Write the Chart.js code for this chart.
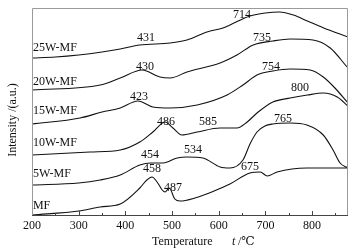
<!DOCTYPE html>
<html>
<head>
<meta charset="utf-8">
<script src="https://cdn.jsdelivr.net/npm/chart.js@4"></script>
<style>
  html, body { margin: 0; padding: 0; background: #fff; }
  #wrap { width: 361px; height: 252px; }
</style>
</head>
<body>
<div id="wrap"><canvas id="tprChart" width="361" height="252"></canvas></div>
<script>
// TPR curves, temperature (°C) vs intensity (a.u., arbitrary offset)
var mfT = [200, 300, 346, 389, 431, 446, 457, 468, 479, 485, 494, 506, 517, 549, 590, 624, 667, 689, 704, 725, 789, 877];
var mfY = [1, 5, 9, 12, 28, 36, 39, 34, 26, 24, 28, 17, 15, 18, 25, 32, 43, 44, 40, 44, 48, 48];

var w5T = [200, 300, 346, 389, 431, 454, 481, 511, 532, 566, 603, 624, 652, 667, 682, 699, 716, 753, 789, 824, 845, 860, 877];
var w5Y = [31, 33, 36, 41, 51, 53, 53, 58, 59, 58, 49, 48, 56, 72, 84, 90, 92, 93, 91, 81, 66, 53, 48];

var w10T = [200, 324, 389, 431, 459, 485, 502, 521, 554, 603, 639, 661, 682, 716, 753, 790, 824, 854, 877];
var w10Y = [61, 64, 66, 74, 84, 94, 88, 81, 84, 88, 88, 94, 103, 114, 118, 121, 123, 119, 110];

var w15T = [200, 303, 350, 389, 427, 459, 496, 554, 618, 652, 682, 716, 753, 796, 824, 849, 877];
var w15Y = [92, 98, 104, 108, 115, 109, 108, 111, 121, 131, 141, 145, 147, 146, 139, 128, 113];

var w20T = [200, 346, 389, 436, 474, 496, 532, 603, 639, 674, 716, 753, 802, 839, 875];
var w20Y = [126, 131, 138, 146, 139, 138, 144, 153, 161, 171, 175, 177, 176, 168, 149];

var w25T = [200, 250, 300, 350, 389, 431, 496, 532, 575, 609, 624, 667, 700, 730, 760, 790, 825, 877];
var w25Y = [158, 159, 161, 164, 167, 171, 173, 176, 184, 188, 191, 200, 203, 204, 201, 195, 188, 179];

var seriesNames = ['MF', '5W-MF', '10W-MF', '15W-MF', '20W-MF', '25W-MF'];
var nameY = [10, 42, 73, 105, 134, 168];

var peakText = ['458', '487', '675', '454', '534', '765', '486', '585', '800', '423', '754', '430', '735', '431', '714'];
var peakX = [457, 502, 667, 453, 545, 738, 487, 577, 774, 429, 712, 442, 693, 444, 650];
var peakY = [47, 28, 49, 61, 66, 97, 94, 94, 128, 119, 149, 149, 178, 178, 201];

var xTicks = [200, 300, 400, 500, 600, 700, 800];

function pts(xs, ys) {
  return xs.map(function (x, i) { return { x: x, y: ys[i] }; });
}

var serif = '"Liberation Serif", "DejaVu Serif", serif';

var curveData = [pts(mfT, mfY), pts(w5T, w5Y), pts(w10T, w10Y), pts(w15T, w15Y), pts(w20T, w20Y), pts(w25T, w25Y)];

var datasets = curveData.map(function (d, i) {
  return {
    label: seriesNames[i],
    data: d,
    borderColor: '#111',
    borderWidth: 1.1,
    pointRadius: 0,
    fill: false,
    cubicInterpolationMode: 'monotone'
  };
});

var textPlugin = {
  id: 'tprText',
  afterDatasetsDraw: function (chart) {
    var c = chart.ctx, a = chart.chartArea;
    var xs = chart.scales.x, ys = chart.scales.y;
    c.save();
    // frame
    c.strokeStyle = '#9a9a9a';
    c.lineWidth = 1;
    c.beginPath();
    c.moveTo(a.left + 0.5, a.bottom);
    c.lineTo(a.left + 0.5, a.top + 0.5);
    c.lineTo(a.right - 0.5, a.top + 0.5);
    c.lineTo(a.right - 0.5, a.bottom);
    c.stroke();
    c.strokeStyle = '#444';
    c.beginPath();
    c.moveTo(a.left, a.bottom - 0.5);
    c.lineTo(a.right, a.bottom - 0.5);
    c.stroke();
    // inward ticks
    for (var t = 250; t <= 850; t += 50) {
      var px = Math.round(xs.getPixelForValue(t)) + 0.5;
      var len = (t % 100 === 0) ? 5 : 3;
      c.beginPath();
      c.moveTo(px, a.bottom);
      c.lineTo(px, a.bottom - len);
      c.stroke();
    }
    c.fillStyle = '#111';
    c.font = '12px ' + serif;
    c.textBaseline = 'middle';
    c.textAlign = 'left';
    seriesNames.forEach(function (n, i) {
      c.fillText(n, xs.getPixelForValue(202), ys.getPixelForValue(nameY[i]));
    });
    c.textAlign = 'center';
    peakText.forEach(function (s, i) {
      c.fillText(s, xs.getPixelForValue(peakX[i]), ys.getPixelForValue(peakY[i]));
    });
    // axis titles
    c.textAlign = 'left';
    c.fillText('Temperature', 152, 242);
    c.font = 'italic 12px ' + serif;
    c.fillText('t', 232, 242);
    c.font = '12px ' + serif;
    c.fillText('/\u2103', 238, 242);
    c.translate(13, 120);
    c.rotate(-Math.PI / 2);
    c.textAlign = 'center';
    c.fillText('Intensity /(a.u.)', 0, 0);
    c.restore();
  }
};

var ctx = document.getElementById('tprChart').getContext('2d');
var tprChart = new Chart(ctx, {
  type: 'line',
  data: { datasets: datasets },
  options: {
    responsive: false,
    animation: false,
    layout: { padding: { left: 32, right: 13, top: 8, bottom: 0 } },
    plugins: { legend: { display: false }, tooltip: { enabled: false } },
    scales: {
      x: {
        type: 'linear',
        min: 200,
        max: 877,
        afterBuildTicks: function (s) { s.ticks = xTicks.map(function (v) { return { value: v }; }); },
        afterFit: function (s) { s.height = 36; },
        grid: { display: false, drawTicks: false },
        border: { display: false },
        ticks: { padding: 3, color: '#111', font: { family: serif, size: 12 }, maxRotation: 0 }
      },
      y: {
        display: false,
        min: 0,
        max: 208
      }
    }
  },
  plugins: [textPlugin]
});
</script>
</body>
</html>
